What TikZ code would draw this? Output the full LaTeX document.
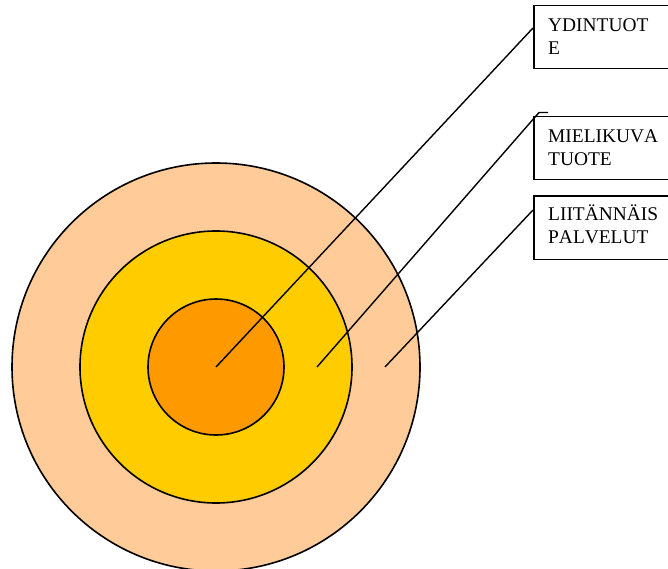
\documentclass[tikz,border=0pt]{standalone}
\usepackage{fontspec}
\setmainfont[Kerning=Off]{Liberation Serif}
\definecolor{outerc}{HTML}{FFCC99}
\definecolor{midc}{HTML}{FFCC00}
\definecolor{innerc}{HTML}{FF9900}
\begin{document}
\begin{tikzpicture}[x=1pt,y=-1pt,
  ring/.style={draw=black,line width=1.6pt},
  labelbox/.style={draw=black,line width=1.5pt,rectangle,inner sep=0pt,anchor=north west,minimum width=160pt,minimum height=63pt},
  lbl/.style={anchor=base west,inner sep=0pt,font=\fontsize{19.4}{23.3}\selectfont},
  conn/.style={draw=black,line width=1.4pt}]
\useasboundingbox (0,0) rectangle (668,569);
\clip (0,0) rectangle (668,569);
% rings
\coordinate (c) at (216,367);
\node[ring,circle,fill=outerc,minimum size=408pt,inner sep=0pt] (outer) at (c) {};
\node[ring,circle,fill=midc,minimum size=272pt,inner sep=0pt] (middle) at (c) {};
\node[ring,circle,fill=innerc,minimum size=136pt,inner sep=0pt] (inner) at (c) {};
% boxes
\node[labelbox] (b1) at (533,5) {};
\node[labelbox] (b2) at (533,116) {};
\node[labelbox] (b3) at (533,195.5) {};
\node[lbl] (t1a) at (548,31.7) {YDINTUOT};
\node[lbl] (t1b) at (548,55) {E};
\node[lbl] (t2a) at (548,143) {MIELIKUVA};
\node[lbl] (t2b) at (548,165.5) {TUOTE};
\node[lbl] (t3a) at (548,220.7) {LIITÄNNÄIS};
\node[lbl] (t3b) at (548,243.3) {PALVELUT};
% connector points
\coordinate (p1) at (216,367);
\coordinate (q1) at (533,28);
\coordinate (p2) at (317,367);
\coordinate (q2) at (539,112.5);
\coordinate (r2) at (548,112.5);
\coordinate (p3) at (385,367);
\coordinate (q3) at (533,210);
\draw[conn] (p1) -- (q1);
\draw[conn] (p2) -- (q2) -- (r2);
\draw[conn] (p3) -- (q3);
\end{tikzpicture}
\end{document}
